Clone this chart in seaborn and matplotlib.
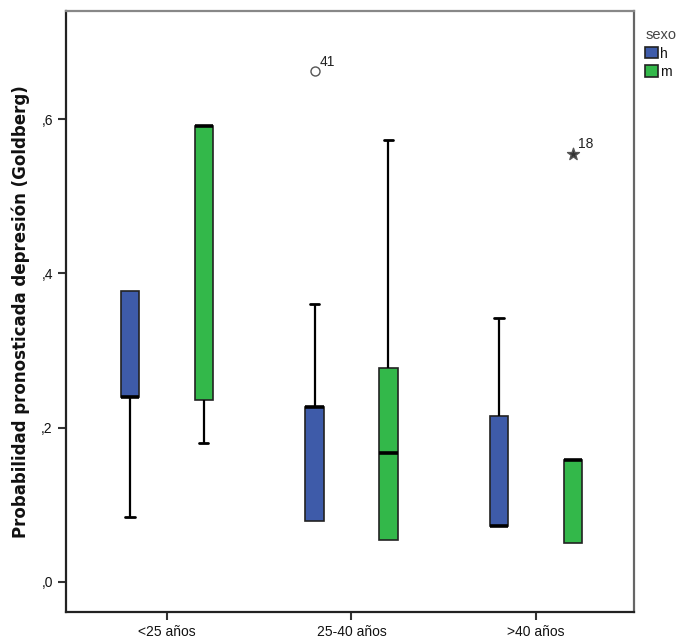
import numpy as np
import pandas as pd
import matplotlib
matplotlib.use("Agg")
import matplotlib.pyplot as plt
import seaborn as sns

# ── data (five-number summaries per box) ─────────────────────────────────────
edad = ["<25 años", "25-40 años", ">40 años"]
sexo = ["h", "m"]
# whislo, q1, median, q3, whishi
h_stats = [[0.084, 0.240, 0.240, 0.377, 0.377],
           [0.079, 0.079, 0.227, 0.227, 0.360],
           [0.072, 0.072, 0.072, 0.215, 0.342]]
m_stats = [[0.180, 0.236, 0.591, 0.591, 0.591],
           [0.054, 0.054, 0.167, 0.277, 0.573],
           [0.050, 0.050, 0.158, 0.158, 0.158]]

# outliers: (edad, sexo, value, case label, marker)
out_edad  = ["25-40 años", ">40 años"]
out_sexo  = ["h", "m"]
out_val   = [0.662, 0.555]
out_label = ["41", "18"]
out_mark  = ["o", "*"]

colors = {"h": "#3E5BA9", "m": "#33B84A"}

rows = []
for g, hs, ms in zip(edad, h_stats, m_stats):
    for v in hs:
        rows.append((g, "h", v))
    for v in ms:
        rows.append((g, "m", v))
df = pd.DataFrame(rows, columns=["edad", "sexo", "prob"])

sns.set_theme(style="white")
plt.rcParams['font.family'] = ['Liberation Sans', 'DejaVu Sans']
plt.rcParams['text.color'] = '#111111'
plt.rcParams['axes.labelcolor'] = '#111111'
plt.rcParams['xtick.color'] = '#111111'
plt.rcParams['ytick.color'] = '#111111'

fig = plt.figure(figsize=(6.84, 6.42), dpi=100)
ax = fig.add_axes([66/684, 30/642, (634-66)/684, (612-11)/642])

sns.boxplot(data=df, x="edad", y="prob", hue="sexo", order=edad, hue_order=sexo,
            palette=colors, saturation=1, width=0.8, gap=0.75, whis=(0, 100),
            showfliers=False, linecolor="#222222", linewidth=1.2,
            medianprops=dict(color="black", linewidth=2.6),
            whiskerprops=dict(color="black", linewidth=1.6),
            capprops=dict(color="black", linewidth=2.0),
            ax=ax)

# SPSS draws no cap where the whisker has zero length
lines = list(ax.lines)
whiskers = [l for l in lines if len(l.get_xdata()) == 2 and l.get_xdata()[0] == l.get_xdata()[1]]
horiz = [l for l in lines if len(l.get_ydata()) == 2 and l.get_ydata()[0] == l.get_ydata()[1]
         and l.get_xdata()[0] != l.get_xdata()[1]]
for w in whiskers:
    y0, y1 = w.get_ydata()
    if np.isclose(y0, y1):
        xw = w.get_xdata()[0]
        # caps are the shortest horizontals centred on this whisker at that height
        cands = [h for h in horiz if np.isclose(h.get_ydata()[0], y0)
                 and np.isclose(np.mean(h.get_xdata()), xw)]
        if cands:
            cap = min(cands, key=lambda h: abs(h.get_xdata()[1] - h.get_xdata()[0]))
            cap.set_visible(False)
        w.set_visible(False)

# outliers with case labels
for g, s, v, lab, mk in zip(out_edad, out_sexo, out_val, out_label, out_mark):
    odf = pd.DataFrame({"edad": [g], "sexo": [s], "prob": [v]})
    n_before = len(ax.collections)
    sns.stripplot(data=odf, x="edad", y="prob", hue="sexo", order=edad, hue_order=sexo,
                  dodge=True, jitter=False, marker=mk, legend=False,
                  palette={"h": "white", "m": "white"} if mk == "o" else {"h": "#333333", "m": "#333333"},
                  size=6.5 if mk == "o" else 9, linewidth=1.0, edgecolor="#555555", ax=ax)
    for coll in ax.collections[n_before:]:
        for px, py in coll.get_offsets():
            ax.annotate(lab, (px, py), xytext=(4, 4), textcoords="offset points",
                        fontsize=10, color="#222222")

ax.set_xlim(-0.547, 2.531)
ax.set_ylim(-0.039, 0.740)
ax.set_yticks([0.0, 0.2, 0.4, 0.6])
ax.set_yticklabels([",0", ",2", ",4", ",6"], fontsize=10)
ax.tick_params(axis="x", labelsize=10, length=6, width=1.5, color="#333333", bottom=True)
ax.tick_params(axis="y", length=6, width=1.5, color="#333333", left=True)
ax.set_xlabel("")
ax.set_ylabel("Probabilidad pronosticada depresión (Goldberg)", fontsize=12,
              fontweight="bold", family="DejaVu Sans", labelpad=8)

for side, col in [("left", "#222222"), ("bottom", "#222222"), ("top", "#888888"), ("right", "#666666")]:
    ax.spines[side].set_visible(True)
    ax.spines[side].set_color(col)
    ax.spines[side].set_linewidth(1.6)

leg = ax.legend(title="sexo", loc="upper left", bbox_to_anchor=(1.005, 0.985),
                frameon=False, fontsize=10, title_fontsize=10.5, handlelength=0.9,
                handleheight=0.9, handletextpad=0.15, labelspacing=0.3,
                borderaxespad=0.2, alignment="left")
leg.get_title().set_color("#444444")
for p in leg.get_patches():
    p.set_edgecolor("#222222")

fig.savefig("out.png", dpi=100)
